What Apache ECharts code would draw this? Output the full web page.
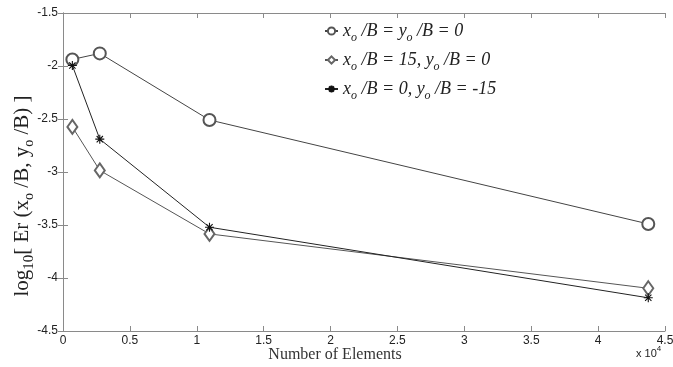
<!DOCTYPE html>
<html>
<head>
<meta charset="utf-8">
<script src="https://cdn.jsdelivr.net/npm/echarts@6/dist/echarts.min.js"></script>
<style>
html,body{margin:0;padding:0;background:#fff;}
#main{width:673px;height:367px;}
</style>
</head>
<body>
<div id="main"></div>
<script>
// number of elements (x), log10 error per case
const elements = [700, 2750, 10950, 43750];
const errCentre = [-1.938, -1.881, -2.509, -3.49];
const errX15 = [-2.575, -2.985, -3.584, -4.097];
const errY15 = [-1.995, -2.69, -3.521, -4.187];
const seriesNames = ['xo/B = yo/B = 0', 'xo/B = 15, yo/B = 0', 'xo/B = 0, yo/B = -15'];
const legendRich = {
  'xo/B = yo/B = 0': '{i|x}{s|o}{i| /B = y}{s|o}{i| /B = 0}',
  'xo/B = 15, yo/B = 0': '{i|x}{s|o}{i| /B = 15, y}{s|o}{i| /B = 0}',
  'xo/B = 0, yo/B = -15': '{i|x}{s|o}{i| /B = 0, y}{s|o}{i| /B = -15}'
};

const pairs = ys => elements.map((x, i) => [x, ys[i]]);
const star = 'path://M0,5 L10,5 M5,0 L5,10 M1.5,1.5 L8.5,8.5 M8.5,1.5 L1.5,8.5';
const serif = '"Liberation Serif", "Times New Roman", serif';
const sans = '"Liberation Sans", Arial, sans-serif';
const boxColor = '#8a8a8a';

const axisCommon = {
  axisLine: {show: true, lineStyle: {color: boxColor, width: 1}},
  axisTick: {show: true, inside: true, length: 5, lineStyle: {color: boxColor}},
  splitLine: {show: false}
};

const option = {
  animation: false,
  grid: {left: 63, right: 8, top: 13, bottom: 36, outerBoundsMode: 'none'},
  legend: {
    orient: 'vertical',
    left: 319,
    top: 17,
    itemWidth: 13,
    itemHeight: 9,
    itemGap: 7,
    data: seriesNames,
    formatter: name => legendRich[name],
    textStyle: {
      rich: {
        i: {fontFamily: serif, fontStyle: 'italic', fontSize: 18, color: '#222'},
        s: {fontFamily: serif, fontStyle: 'italic', fontSize: 12, color: '#222', padding: [14, 0, 0, 0]}
      }
    }
  },
  xAxis: [
    Object.assign({
      type: 'value', min: 0, max: 45000, interval: 5000,
      axisLabel: {fontFamily: sans, fontSize: 12, color: '#222', margin: 4,
        formatter: v => String(v / 10000)}
    }, axisCommon),
    Object.assign({
      type: 'value', min: 0, max: 45000, interval: 5000, position: 'top',
      axisLabel: {show: false}
    }, axisCommon)
  ],
  yAxis: [
    Object.assign({
      type: 'value', min: -4.5, max: -1.5, interval: 0.5,
      axisLabel: {fontFamily: sans, fontSize: 12, color: '#222', margin: 5}
    }, axisCommon),
    Object.assign({
      type: 'value', min: -4.5, max: -1.5, interval: 0.5, position: 'right',
      axisLabel: {show: false}
    }, axisCommon)
  ],
  series: [
    {
      name: seriesNames[0], type: 'line', data: pairs(errCentre),
      symbol: 'emptyCircle', symbolSize: 12,
      lineStyle: {color: '#444', width: 1},
      itemStyle: {color: '#555', borderColor: '#555', borderWidth: 0.8}
    },
    {
      name: seriesNames[1], type: 'line', data: pairs(errX15),
      symbol: 'emptyDiamond', symbolSize: [10, 14],
      lineStyle: {color: '#555', width: 1},
      itemStyle: {color: '#666', borderColor: '#666', borderWidth: 0.8}
    },
    {
      name: seriesNames[2], type: 'line', data: pairs(errY15),
      symbol: star, symbolSize: 9,
      lineStyle: {color: '#222', width: 1},
      itemStyle: {color: '#111', borderColor: '#111', borderWidth: 1.1}
    }
  ],
  graphic: [
    {
      type: 'text', x: 22, y: 196, rotation: Math.PI / 2,
      style: {
        text: '{n|log}{s|10}{n|[ Er (x}{t|o}{n| /B, y}{t|o}{n| /B) ]}',
        align: 'center', verticalAlign: 'middle',
        rich: {
          n: {fontFamily: serif, fontSize: 21, fill: '#222'},
          s: {fontFamily: serif, fontSize: 15, fill: '#222', padding: [14, 0, 0, 0]},
          t: {fontFamily: serif, fontSize: 14, fill: '#222', padding: [14, 0, 0, 0]}
        }
      }
    },
    {
      type: 'text', x: 335, y: 355,
      style: {
        text: 'Number of Elements', align: 'center', verticalAlign: 'middle',
        fontFamily: serif, fontSize: 16, fill: '#333'
      }
    },
    {
      type: 'text', left: 636, top: 345,
      style: {
        text: '{a|x 10}{b|4}',
        rich: {
          a: {fontFamily: sans, fontSize: 11, fill: '#222', padding: [4, 0, 0, 0]},
          b: {fontFamily: sans, fontSize: 8, fill: '#222', padding: [0, 0, 6, 0]}
        }
      }
    }
  ]
};

const chart = echarts.init(document.getElementById('main'));
chart.setOption(option);
</script>
</body>
</html>
